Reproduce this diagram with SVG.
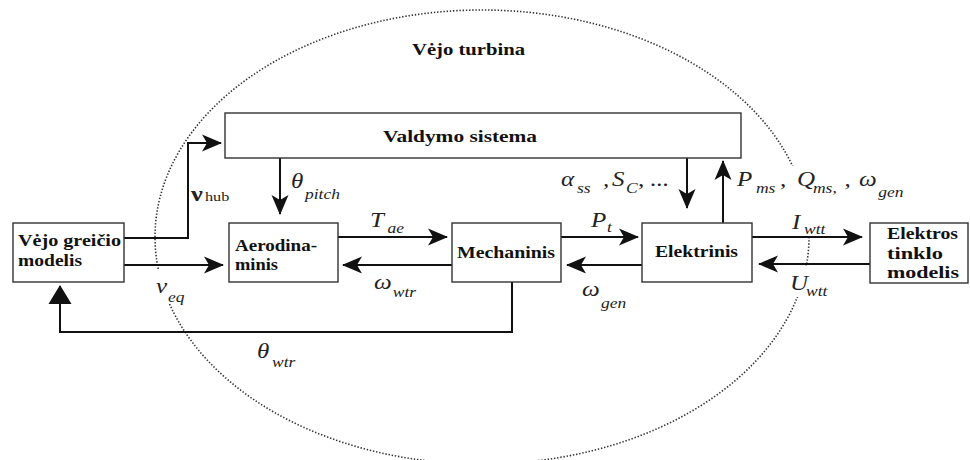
<svg xmlns="http://www.w3.org/2000/svg" width="970" height="460" viewBox="0 0 970 460">
<style>
.box{fill:#fff;stroke:#333;stroke-width:1.4}
.bt{font-family:'Liberation Serif','Times New Roman',serif;font-weight:700;font-size:17px;fill:#111}
.ln{fill:none;stroke:#111;stroke-width:2}
.m{font-family:'Liberation Serif','Times New Roman',serif;font-style:italic;fill:#222;font-size:20px}
.s{font-size:14px}
</style>
<defs>
<marker id="ah" markerUnits="userSpaceOnUse" markerWidth="22" markerHeight="20" viewBox="-20 -10 22 20" refX="0" refY="0" orient="auto">
<path d="M1,0 L-19,-8.5 L-14,0 L-19,8.5 Z" fill="#111"/>
</marker>
<marker id="tri" markerUnits="userSpaceOnUse" markerWidth="22" markerHeight="26" viewBox="-20 -13 22 26" refX="0" refY="0" orient="auto">
<path d="M1,0 L-18,-11.5 L-18,11.5 Z" fill="#111"/>
</marker>
<mask id="em">
<rect x="0" y="0" width="970" height="460" fill="#fff"/>
<rect x="140" y="269" width="45" height="34" fill="#000"/>
<rect x="770" y="166" width="60" height="70" fill="#000"/>
<rect x="780" y="266" width="40" height="31" fill="#000"/>
</mask>
</defs>

<ellipse cx="482" cy="237" rx="327" ry="227" fill="none" stroke="#333" stroke-width="1.6" stroke-dasharray="1.4 1.8" mask="url(#em)"/>
<text class="bt" x="412" y="55" textLength="113" lengthAdjust="spacingAndGlyphs">Vėjo turbina</text>

<g id="connectors">
<path class="ln" d="M124,238 H188 V143 H221" marker-end="url(#ah)"/>
<path class="ln" d="M124,265 H223" marker-end="url(#ah)"/>
<path class="ln" d="M280,158 V214" marker-end="url(#ah)"/>
<path class="ln" d="M338,237 H447" marker-end="url(#ah)"/>
<path class="ln" d="M452,265 H343" marker-end="url(#ah)"/>
<path class="ln" d="M561,237 H638" marker-end="url(#ah)"/>
<path class="ln" d="M642,265 H567" marker-end="url(#ah)"/>
<path class="ln" d="M687,158 V208" marker-end="url(#ah)"/>
<path class="ln" d="M723,223 V161" marker-end="url(#ah)"/>
<path class="ln" d="M752,237 H862" marker-end="url(#ah)"/>
<path class="ln" d="M870,264 H759" marker-end="url(#ah)"/>
<path class="ln" d="M512,282 V332 H60 V286" marker-end="url(#tri)"/>
</g>

<g id="labels">
<text transform="translate(191,201) scale(1.25,1)" font-family="Liberation Serif" fill="#222"><tspan x="0" y="0" font-weight="700" font-size="21">ν</tspan><tspan x="11.2" y="0" font-size="13">hub</tspan></text>
<text class="m" transform="translate(291,188) scale(1.25,1)"><tspan x="0" y="0">θ</tspan><tspan class="s" x="11.2" y="11">pitch</tspan></text>
<text class="m" transform="translate(156,293) scale(1.25,1)"><tspan x="0" y="0">ν</tspan><tspan class="s" x="9.6" y="9">eq</tspan></text>
<text class="m" transform="translate(370,227) scale(1.25,1)"><tspan x="0" y="0">T</tspan><tspan class="s" x="14" y="6">ae</tspan></text>
<text class="m" transform="translate(374,289) scale(1.25,1)"><tspan x="0" y="0">ω</tspan><tspan class="s" x="15" y="8">wtr</tspan></text>
<text class="m" transform="translate(591,227) scale(1.25,1)"><tspan x="0" y="0">P</tspan><tspan class="s" x="12.8" y="5">t</tspan></text>
<text class="m" transform="translate(582,296) scale(1.25,1)"><tspan x="0" y="0">ω</tspan><tspan class="s" x="15.2" y="12">gen</tspan></text>
<text class="m" transform="translate(561,186) scale(1.25,1)"><tspan x="0" y="0">α</tspan><tspan class="s" x="12.8" y="7">ss</tspan><tspan x="33.6" y="0">,</tspan><tspan x="40.8" y="0">S</tspan><tspan class="s" x="52" y="7">C</tspan><tspan x="61.6" y="0">, ...</tspan></text>
<text class="m" transform="translate(737,186) scale(1.25,1)"><tspan x="0" y="0">P</tspan><tspan class="s" x="15.2" y="7">ms</tspan><tspan x="34.4" y="0">,</tspan><tspan x="48" y="0">Q</tspan><tspan class="s" x="60.8" y="7">ms,</tspan><tspan x="86" y="0">,</tspan><tspan x="97.6" y="0">ω</tspan><tspan class="s" x="113" y="11">gen</tspan></text>
<text class="m" transform="translate(792,229) scale(1.25,1)"><tspan x="0" y="0">I</tspan><tspan class="s" x="9.6" y="5">wtt</tspan></text>
<text class="m" transform="translate(790,290) scale(1.25,1)"><tspan x="0" y="0">U</tspan><tspan class="s" x="12.8" y="6">wtt</tspan></text>
<text class="m" transform="translate(257,358) scale(1.25,1)"><tspan x="0" y="0">θ</tspan><tspan class="s" x="12" y="9">wtr</tspan></text>
</g>

<g id="valdymo">
<rect class="box" x="225" y="113" width="516" height="45"/>
<text class="bt" x="383" y="142" textLength="154" lengthAdjust="spacingAndGlyphs">Valdymo sistema</text>
</g>
<g id="vejo-greicio">
<rect class="box" x="13" y="223" width="111" height="59"/>
<text class="bt" x="18" y="246" textLength="103" lengthAdjust="spacingAndGlyphs">Vėjo greičio</text>
<text class="bt" x="18" y="266" textLength="64" lengthAdjust="spacingAndGlyphs">modelis</text>
</g>
<g id="aerodinaminis">
<rect class="box" x="229" y="223" width="109" height="59"/>
<text class="bt" x="235" y="251" textLength="82" lengthAdjust="spacingAndGlyphs">Aerodina-</text>
<text class="bt" x="235" y="270" textLength="43" lengthAdjust="spacingAndGlyphs">minis</text>
</g>
<g id="mechaninis">
<rect class="box" x="452" y="223" width="109" height="59"/>
<text class="bt" x="457" y="258" textLength="98" lengthAdjust="spacingAndGlyphs">Mechaninis</text>
</g>
<g id="elektrinis">
<rect class="box" x="642" y="223" width="110" height="59"/>
<text class="bt" x="655" y="257" textLength="83" lengthAdjust="spacingAndGlyphs">Elektrinis</text>
</g>
<g id="elektros-tinklo">
<rect class="box" x="870" y="223" width="98" height="60"/>
<text class="bt" x="887" y="239" textLength="71" lengthAdjust="spacingAndGlyphs">Elektros</text>
<text class="bt" x="887" y="259" textLength="56" lengthAdjust="spacingAndGlyphs">tinklo</text>
<text class="bt" x="887" y="278" textLength="72" lengthAdjust="spacingAndGlyphs">modelis</text>
</g>
</svg>
